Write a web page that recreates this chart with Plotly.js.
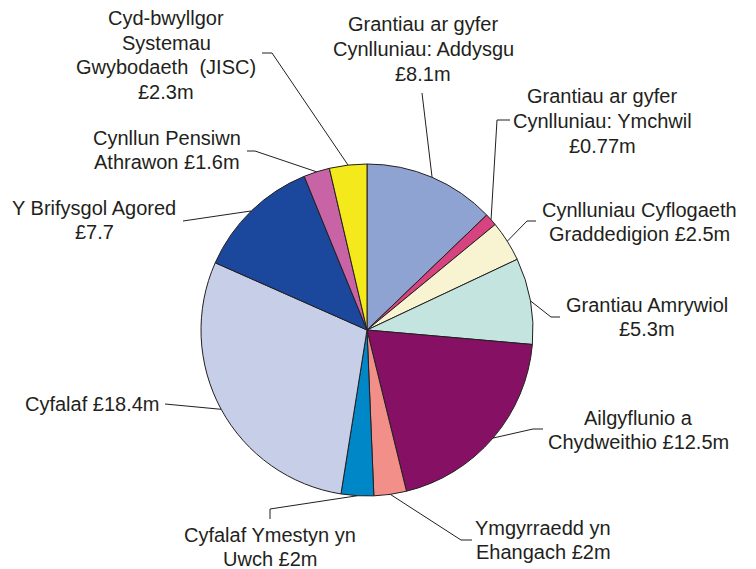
<!DOCTYPE html>
<html>
<head>
<meta charset="utf-8">
<script src="https://cdn.plot.ly/plotly-3.0.1.min.js"></script>
<style>html,body{margin:0;padding:0;background:#fff;}#chart{width:756px;height:569px;}</style>
</head>
<body>
<div id="chart"></div>
<script>
// ---- data ----
var categories = [
  "Grantiau ar gyfer Cynlluniau: Addysgu",
  "Grantiau ar gyfer Cynlluniau: Ymchwil",
  "Cynlluniau Cyflogaeth Graddedigion",
  "Grantiau Amrywiol",
  "Ailgyflunio a Chydweithio",
  "Ymgyrraedd yn Ehangach",
  "Cyfalaf Ymestyn yn Uwch",
  "Cyfalaf",
  "Y Brifysgol Agored",
  "Cynllun Pensiwn Athrawon",
  "Cyd-bwyllgor Systemau Gwybodaeth (JISC)"
];
var values = [8.1, 0.77, 2.5, 5.3, 12.5, 2, 2, 18.4, 7.7, 1.6, 2.3];
var labelTexts = [
  "Grantiau ar gyfer<br>Cynlluniau: Addysgu<br>£8.1m",
  "Grantiau ar gyfer<br>Cynlluniau: Ymchwil<br>£0.77m",
  "Cynlluniau Cyflogaeth<br>Graddedigion £2.5m",
  "Grantiau Amrywiol<br>£5.3m",
  "Ailgyflunio a<br>Chydweithio £12.5m",
  "Ymgyrraedd yn<br>Ehangach £2m",
  "Cyfalaf Ymestyn yn<br>Uwch £2m",
  "Cyfalaf £18.4m",
  "Y Brifysgol Agored<br>£7.7",
  "Cynllun Pensiwn<br>Athrawon £1.6m",
  "Cyd-bwyllgor<br>Systemau<br>Gwybodaeth  (JISC)<br>£2.3m"
];
var colors = ["#8fa3d2","#d6437e","#f8f4d2","#c4e5df","#861164","#f28f88","#0087c8","#c7cee7","#1b479c","#c864a6","#f4e91b"];

// ---- layout constants (pixels) ----
var W = 756, H = 569;
var CX = 367, CY = 330, R = 166;
var LINE_H = 24.6;
// text block centre, anchor
var textPos = [
  [423, 49, "center"], [602, 121, "center"], [639, 222, "center"], [647, 317, "center"],
  [638, 430, "center"], [543, 540, "center"], [270, 547, "center"], [162, 404, "right"],
  [94, 220, "center"], [167, 150, "center"], [166, 55, "center"]
];
// leader line: start point and optional knee
var leaders = [
  [[422, 93]], [[510, 120], [497, 120]], [[536, 221], [527, 221]], [[560, 317], [551, 317]],
  [[543, 429], [533, 429]], [[472, 540], [461, 540]], [[270, 519], [270, 509]], [[165, 404]],
  [[183, 221]], [[247, 151], [255, 151]], [[262, 53], [272, 53]]
];

function px(x){ return x / W; }
function py(y){ return 1 - y / H; }

var total = values.reduce(function(a,b){return a+b;},0);
var shapes = [], annotations = [];
var cum = 0;
for (var i = 0; i < values.length; i++) {
  var mid = (cum + values[i] / 2) / total * 2 * Math.PI;
  cum += values[i];
  var ex = CX + R * Math.sin(mid), ey = CY - R * Math.cos(mid);
  var pts = leaders[i].concat([[ex, ey]]);
  var path = pts.map(function(p, k){ return (k ? "L" : "M") + px(p[0]) + "," + py(p[1]); }).join(" ");
  shapes.push({type:"path", xref:"paper", yref:"paper", path:path, line:{color:"#231f20", width:1}});
  var lines = labelTexts[i].split("<br>");
  for (var k = 0; k < lines.length; k++) {
    var ly = textPos[i][1] + (k - (lines.length - 1) / 2) * LINE_H;
    annotations.push({
      xref:"paper", yref:"paper", x:px(textPos[i][0]), y:py(ly),
      xanchor:textPos[i][2], yanchor:"middle", showarrow:false, align:"center",
      text:lines[k], font:{family:"Liberation Sans, Arial, sans-serif", size:20, color:"#231f20"}
    });
  }
}

var trace = {
  type:"pie", labels:categories, values:values, sort:false, direction:"clockwise", rotation:0,
  marker:{colors:colors, line:{color:"#231f20", width:1}},
  textinfo:"none", hoverinfo:"label+value", showlegend:false,
  domain:{x:[px(CX - R), px(CX + R)], y:[py(CY + R), py(CY - R)]}
};

Plotly.newPlot("chart", [trace], {
  width:W, height:H, margin:{l:0,r:0,t:0,b:0}, paper_bgcolor:"#fff",
  showlegend:false, shapes:shapes, annotations:annotations
}, {displayModeBar:false, staticPlot:true});
</script>
</body>
</html>
